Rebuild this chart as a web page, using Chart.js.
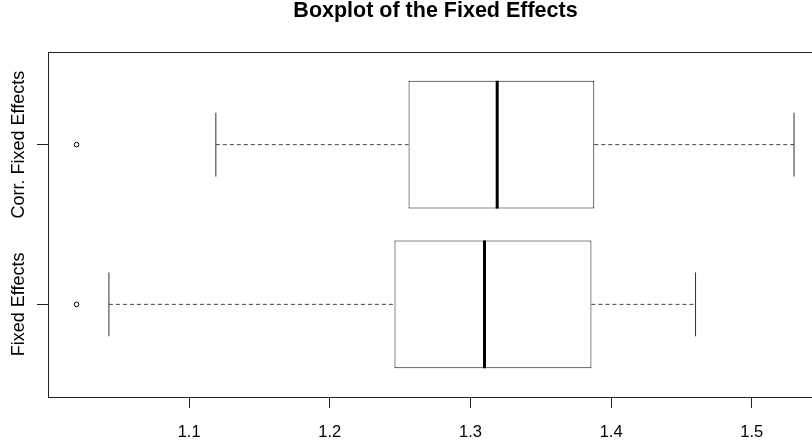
<!DOCTYPE html>
<html>
<head>
<meta charset="utf-8">
<title>Boxplot of the Fixed Effects</title>
<script src="https://cdn.jsdelivr.net/npm/chart.js@4/dist/chart.umd.min.js"></script>
<style>
  html, body { margin: 0; padding: 0; background: #fff; overflow: hidden; }
  #wrap { width: 812px; height: 448px; overflow: hidden; }
</style>
</head>
<body>
<div id="wrap"><canvas id="box" width="840" height="448"></canvas></div>
<script>
// ---- data ----
const categories   = ['Fixed Effects', 'Corr. Fixed Effects'];
const lowerWhisker = [1.043, 1.119];
const q1           = [1.246, 1.256];
const median       = [1.310, 1.319];
const q3           = [1.386, 1.388];
const upperWhisker = [1.460, 1.530];
const outliers     = [[1.020], [1.020]];
const xTicks       = [1.1, 1.2, 1.3, 1.4, 1.5];

(function () {
  const FONT = "'Liberation Sans', Arial, sans-serif";
  const pos = i => i + 1;   // group i sits at y = i + 1 (R style)

  // half the pixel height of `units` on the y scale
  const halfSpan = units => ctx => {
    const y = ctx.chart.scales.y;
    return Math.abs(y.getPixelForValue(units) - y.getPixelForValue(0)) / 2;
  };

  // ---- datasets ----
  const datasets = [];

  // boxes: floating bars from q1 to q3
  datasets.push({
    type: 'bar',
    data: categories.map((c, i) => ({ x: [q1[i], q3[i]], y: pos(i) })),
    backgroundColor: '#fff',
    borderColor: '#111',
    borderWidth: 1,
    borderSkipped: false,
    barPercentage: 0.8,
    categoryPercentage: 1,
    order: 2
  });

  // dashed whiskers
  categories.forEach((c, i) => {
    [[lowerWhisker[i], q1[i]], [q3[i], upperWhisker[i]]].forEach(seg => {
      datasets.push({
        type: 'line',
        data: seg.map(v => ({ x: v, y: pos(i) })),
        borderColor: '#444',
        borderWidth: 1,
        borderDash: [4, 3],
        pointRadius: 0,
        fill: false,
        order: 3
      });
    });
  });

  // whisker staples
  datasets.push({
    type: 'scatter',
    data: categories.flatMap((c, i) => [
      { x: lowerWhisker[i], y: pos(i) },
      { x: upperWhisker[i], y: pos(i) }
    ]),
    pointStyle: 'line',
    rotation: 90,
    radius: halfSpan(0.4),
    borderColor: '#333',
    borderWidth: 1,
    order: 1
  });

  // medians
  datasets.push({
    type: 'scatter',
    data: categories.map((c, i) => ({ x: median[i], y: pos(i) })),
    pointStyle: 'line',
    rotation: 90,
    radius: halfSpan(0.8),
    borderColor: '#000',
    borderWidth: 3,
    order: 0
  });

  // outliers
  datasets.push({
    type: 'scatter',
    data: categories.flatMap((c, i) => outliers[i].map(v => ({ x: v, y: pos(i) }))),
    pointStyle: 'circle',
    radius: 2.3,
    backgroundColor: '#fff',
    borderColor: '#000',
    borderWidth: 1,
    order: 0
  });

  // ---- plugins: frame + rotated group labels ----
  const framePlugin = {
    id: 'frame',
    afterDraw(chart) {
      const { ctx, chartArea: a } = chart;
      ctx.save();
      ctx.strokeStyle = '#222';
      ctx.lineWidth = 1;
      ctx.strokeRect(Math.round(a.left) + 0.5, Math.round(a.top) + 0.5,
        Math.round(a.right - a.left), Math.round(a.bottom - a.top));
      ctx.restore();
    }
  };

  const groupLabels = {
    id: 'groupLabels',
    afterDraw(chart) {
      const { ctx } = chart;
      const y = chart.scales.y;
      ctx.save();
      ctx.fillStyle = '#000';
      ctx.font = '18px ' + FONT;
      ctx.textAlign = 'center';
      ctx.textBaseline = 'middle';
      categories.forEach((c, i) => {
        ctx.save();
        ctx.translate(19.5, y.getPixelForValue(pos(i)));
        ctx.rotate(-Math.PI / 2);
        ctx.fillText(c, 0, 0);
        ctx.restore();
      });
      ctx.restore();
    }
  };

  new Chart(document.getElementById('box'), {
    type: 'bar',
    data: { datasets },
    options: {
      indexAxis: 'y',
      responsive: false,
      animation: false,
      devicePixelRatio: 1,
      layout: { padding: { left: 0, right: 17, top: 0, bottom: 0 } },
      plugins: {
        legend: { display: false },
        tooltip: { enabled: false },
        title: {
          display: true,
          text: 'Boxplot of the Fixed Effects',
          fullSize: false,
          color: '#000',
          font: { family: FONT, size: 21.5, weight: 'bold', lineHeight: 1 },
          padding: { top: 0, bottom: 30.5 }
        }
      },
      scales: {
        x: {
          type: 'linear',
          min: 0.9997,
          max: 1.5506,
          afterBuildTicks: s => { s.ticks = xTicks.map(v => ({ value: v })); },
          afterFit: s => { s.height = 51; },
          border: { display: false },
          grid: { drawOnChartArea: false, tickLength: 11, tickColor: '#222', tickWidth: 1 },
          ticks: {
            padding: 15,
            color: '#000',
            font: { family: FONT, size: 16.5 },
            callback: v => v.toFixed(1)
          }
        },
        y: {
          type: 'linear',
          min: 0.42,
          max: 2.58,
          offset: false,
          afterBuildTicks: s => { s.ticks = categories.map((c, i) => ({ value: pos(i) })); },
          afterFit: s => { s.width = 48; },
          border: { display: false },
          grid: { offset: false, drawOnChartArea: false, tickLength: 11, tickColor: '#222', tickWidth: 1 },
          ticks: { display: false }
        }
      }
    },
    plugins: [framePlugin, groupLabels]
  });
})();
</script>
</body>
</html>
